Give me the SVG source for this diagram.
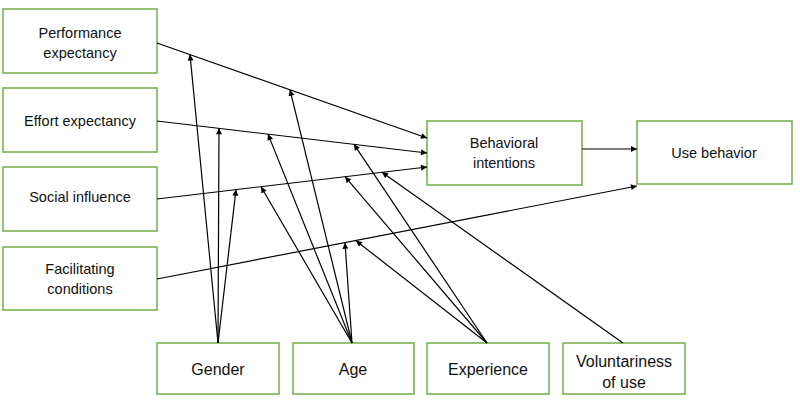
<svg xmlns="http://www.w3.org/2000/svg" width="800" height="408" viewBox="0 0 800 408">
<defs>
<marker id="ah" viewBox="0 0 10 10" refX="10" refY="5" markerWidth="7" markerHeight="6" markerUnits="userSpaceOnUse" orient="auto">
<path d="M0,0 L10,5 L0,10 z" fill="#000"/>
</marker>
<style>
.box{fill:#fff;stroke:#70AD47;stroke-width:1.5}
.t{font-family:"Liberation Sans",Arial,sans-serif;font-size:14.5px;fill:#111;text-anchor:middle}
.tb{font-family:"Liberation Sans",Arial,sans-serif;font-size:16px;fill:#111;text-anchor:middle}
.c line{stroke:#000;stroke-width:1.2;marker-end:url(#ah)}
</style>
</defs>
<rect width="800" height="408" fill="#fff"/>
<g id="perf"><rect class="box" x="3" y="9" width="154" height="64"/><text class="t" x="80" y="38">Performance</text><text class="t" x="80" y="58">expectancy</text></g>
<g id="effort"><rect class="box" x="3" y="88" width="154" height="64"/><text class="t" x="80" y="126">Effort expectancy</text></g>
<g id="social"><rect class="box" x="3" y="167" width="154" height="64"/><text class="t" x="80" y="202">Social influence</text></g>
<g id="facil"><rect class="box" x="3" y="247" width="154" height="63"/><text class="t" x="80" y="274">Facilitating</text><text class="t" x="80" y="294">conditions</text></g>
<g id="bi"><rect class="box" x="427" y="121" width="155" height="64"/><text class="t" x="504" y="148">Behavioral</text><text class="t" x="504" y="168">intentions</text></g>
<g id="use"><rect class="box" x="637" y="121" width="155" height="63"/><text class="t" x="714" y="158">Use behavior</text></g>
<g id="gender"><rect class="box" x="157" y="343" width="122" height="51"/><text class="tb" x="218" y="375">Gender</text></g>
<g id="age"><rect class="box" x="293" y="343" width="121" height="51"/><text class="tb" x="353" y="375">Age</text></g>
<g id="exp"><rect class="box" x="427" y="343" width="122" height="51"/><text class="tb" x="488" y="375">Experience</text></g>
<g id="vol"><rect class="box" x="563" y="343" width="122" height="51"/><text class="tb" x="624" y="367">Voluntariness</text><text class="tb" x="624" y="388">of use</text></g>
<g class="c" id="connectors">
<line x1="157" y1="43" x2="427" y2="138"/>
<line x1="157" y1="121" x2="427" y2="153"/>
<line x1="157" y1="199" x2="427" y2="167"/>
<line x1="157" y1="279" x2="637" y2="186"/>
<line x1="582" y1="149" x2="637" y2="149"/>
<line x1="218" y1="343" x2="190" y2="54.6"/>
<line x1="218" y1="343" x2="219" y2="128.3"/>
<line x1="218" y1="343" x2="236" y2="189.6"/>
<line x1="352" y1="343" x2="290" y2="89.8"/>
<line x1="352" y1="343" x2="268" y2="134.1"/>
<line x1="352" y1="343" x2="261" y2="186.7"/>
<line x1="352" y1="343" x2="345" y2="242.8"/>
<line x1="487" y1="343" x2="354" y2="144.3"/>
<line x1="487" y1="343" x2="345" y2="176.7"/>
<line x1="487" y1="343" x2="356" y2="240.7"/>
<line x1="623" y1="343" x2="382" y2="172.3"/>
</g>
</svg>
